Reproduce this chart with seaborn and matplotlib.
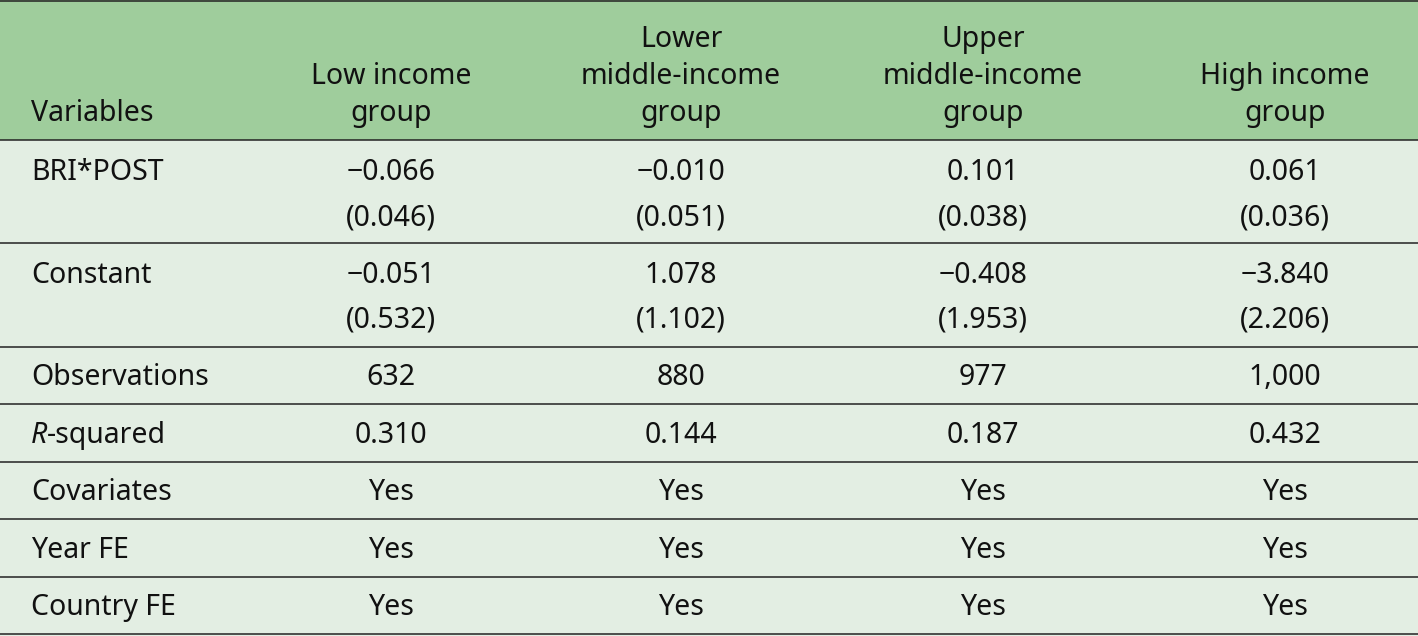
import matplotlib
matplotlib.use("Agg")
import matplotlib.pyplot as plt
import seaborn as sns

# ---- data ----
col_headers = ["Variables", "Low income\ngroup", "Lower\nmiddle-income\ngroup",
               "Upper\nmiddle-income\ngroup", "High income\ngroup"]
bri_coef = ["\u22120.066", "\u22120.010", "0.101", "0.061"]
bri_se = ["(0.046)", "(0.051)", "(0.038)", "(0.036)"]
const_coef = ["\u22120.051", "1.078", "\u22120.408", "\u22123.840"]
const_se = ["(0.532)", "(1.102)", "(1.953)", "(2.206)"]
observations = ["632", "880", "977", "1,000"]
r_squared = ["0.310", "0.144", "0.187", "0.432"]
covariates = ["Yes", "Yes", "Yes", "Yes"]
year_fe = ["Yes", "Yes", "Yes", "Yes"]
country_fe = ["Yes", "Yes", "Yes", "Yes"]

sns.set_theme(style="white")
plt.rcParams['font.family'] = ['Noto Sans', 'DejaVu Sans']

W, H = 1418, 636
fig = plt.figure(figsize=(W / 100, H / 100), dpi=100)
ax = fig.add_axes([0, 0, 1, 1])
ax.set_xlim(0, W)
ax.set_ylim(H, 0)
ax.axis("off")

header_bg = "#9fcd9c"
body_bg = "#e3eee3"
line_c = "#222222"
fs = 20.5
tc = "#111111"
dy = 2.5

ax.axhspan(0, 140, color=header_bg, lw=0)
ax.axhspan(140, H, color=body_bg, lw=0)

col_x = [31, 391, 681, 983, 1285]

# header
ax.text(col_x[0], 111 + dy, col_headers[0], ha="left", va="center", fontsize=fs, color=tc)
for x, h in zip(col_x[1:], col_headers[1:]):
    lines = h.split("\n")
    n = len(lines)
    for i, ln in enumerate(lines):
        y = 111 - (n - 1 - i) * 37 + dy
        ax.text(x, y, ln, ha="center", va="center", fontsize=fs, color=tc)

def row(label, y, vals):
    if label is not None:
        ax.text(col_x[0], y + dy, label, ha="left", va="center", fontsize=fs, color=tc)
    for x, v in zip(col_x[1:], vals):
        ax.text(x, y + dy, v, ha="center", va="center", fontsize=fs, color=tc)

row("BRI*POST", 170, bri_coef)
row(None, 215, bri_se)
row("Constant", 273, const_coef)
row(None, 318, const_se)
row("Observations", 375, observations)
# R-squared with italic R
tR = ax.text(col_x[0], 433 + dy, "R", ha="left", va="center", fontsize=fs, style="italic", color=tc)
fig.canvas.draw()
bb = tR.get_window_extent()
ax.text(bb.x1, 433 + dy, "-squared", ha="left", va="center", fontsize=fs, color=tc)
row(None, 433, r_squared)
row("Covariates", 490, covariates)
row("Year FE", 548, year_fe)
row("Country FE", 605, country_fe)

for y in [1, 140, 243, 347, 404, 462, 519, 577, 634]:
    ax.axhline(y, color=line_c, lw=1.1)

fig.savefig("out.png", dpi=100)
